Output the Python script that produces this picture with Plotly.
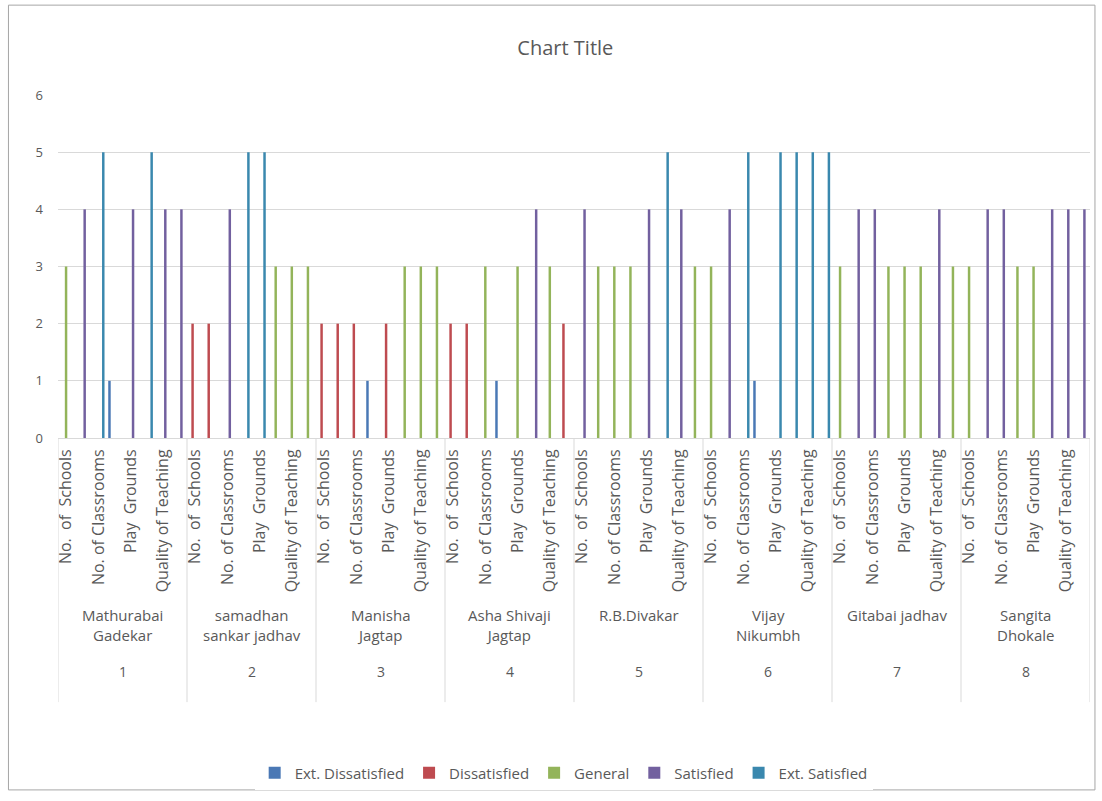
import plotly.graph_objects as go

# ---- data ----
group_numbers = ["1", "2", "3", "4", "5", "6", "7", "8"]
group_names = ["Mathurabai<br>Gadekar", "samadhan<br>sankar jadhav", "Manisha<br>Jagtap",
               "Asha Shivaji<br>Jagtap", "R.B.Divakar", "Vijay<br>Nikumbh",
               "Gitabai jadhav", "Sangita<br>Dhokale"]
# eight rows per person; Excel shows only every second row label
item_labels = ["No.  of  Schools", "", "No. of Classrooms", "", "Play  Grounds", "",
               "Quality of Teaching", ""]
series_names = ["Ext. Dissatisfied", "Dissatisfied", "General", "Satisfied", "Ext. Satisfied"]
series_colors = ["#4A78B5", "#BE4B50", "#93B45A", "#72609F", "#3A88AE"]

# rating given in each row (1 = Ext. Dissatisfied ... 5 = Ext. Satisfied)
ratings = [
    [3, 4, 5, 1, 4, 5, 4, 4],
    [2, 2, 4, 5, 5, 3, 3, 3],
    [2, 2, 2, 1, 2, 3, 3, 3],
    [2, 2, 3, 1, 3, 4, 3, 2],
    [4, 3, 3, 3, 4, 5, 4, 3],
    [3, 4, 5, 1, 5, 5, 5, 5],
    [3, 4, 4, 3, 3, 3, 4, 3],
    [3, 4, 4, 3, 3, 4, 4, 4],
]

# ---- build categories ----
cats = []
tickvals = []
ticktext = []
for g, grp in enumerate(group_numbers):
    for i, lab in enumerate(item_labels):
        key = f"{grp}-{i}"
        cats.append(key)
        if lab:
            tickvals.append(key)
            ticktext.append(lab)

fig = go.Figure()
for s, (name, col) in enumerate(zip(series_names, series_colors)):
    level = s + 1
    yvals = []
    for g in range(len(group_numbers)):
        for i in range(len(item_labels)):
            r = ratings[g][i]
            yvals.append(r if r == level else None)
    fig.add_trace(go.Bar(x=cats, y=yvals, name=name, marker_color=col,
                         marker_line_width=0))

grey = "#595959"
n_items = len(item_labels)
n_groups = len(group_numbers)

annotations = []
shapes = []
for g in range(n_groups):
    center = g * n_items + (n_items - 1) / 2
    annotations.append(dict(x=center, xref="x", y=-0.48, yref="paper",
                            text=group_names[g], showarrow=False, yanchor="top",
                            font=dict(size=15, color=grey, family="Open Sans")))
    annotations.append(dict(x=center, xref="x", y=-0.682, yref="paper",
                            text=group_numbers[g], showarrow=False, yanchor="middle",
                            font=dict(size=14, color=grey, family="Open Sans")))
for g in range(n_groups + 1):
    xb = g * n_items - 0.5
    shapes.append(dict(type="line", xref="x", yref="paper", x0=xb, x1=xb,
                       y0=0, y1=-0.77, line=dict(color="#D9D9D9", width=1)))
# outer chart border
shapes.append(dict(type="rect", xref="paper", yref="paper",
                   x0=-0.048, x1=1.0048, y0=-1.026, y1=1.262,
                   line=dict(color="#A6A6A6", width=1)))

fig.update_layout(
    width=1102, height=801,
    margin=dict(l=58, r=12, t=95, b=363),
    paper_bgcolor="white", plot_bgcolor="white",
    barmode="group", bargap=0.23, bargroupgap=0,
    title=dict(text="Chart Title", x=0.513, xref="container", y=0.94,
               yref="container", xanchor="center", yanchor="middle",
               font=dict(size=20, color=grey, family="Open Sans")),
    font=dict(family="Open Sans", color=grey),
    xaxis=dict(type="category", categoryorder="array", categoryarray=cats,
               tickmode="array", tickvals=tickvals, ticktext=ticktext,
               tickangle=-90, tickfont=dict(size=16, color=grey),
               showline=True, linecolor="#D9D9D9", showgrid=False,
               range=[-0.5, len(cats) - 0.5], ticks="", automargin=False,
               ticklabelstandoff=4),
    yaxis=dict(range=[0, 6], dtick=1, showgrid=True, gridcolor="#D9D9D9",
               zeroline=False, tickfont=dict(size=13, color=grey), ticks="",
               automargin=False, ticklabelstandoff=14),
    legend=dict(orientation="h", x=0.49, xanchor="center", y=-0.977, yanchor="middle",
                font=dict(size=15, color=grey), itemwidth=30,
                traceorder="normal"),
    annotations=annotations, shapes=shapes,
)

fig.write_html("out.html", config={"displayModeBar": False},
               post_script="document.body.style.margin='0';")
